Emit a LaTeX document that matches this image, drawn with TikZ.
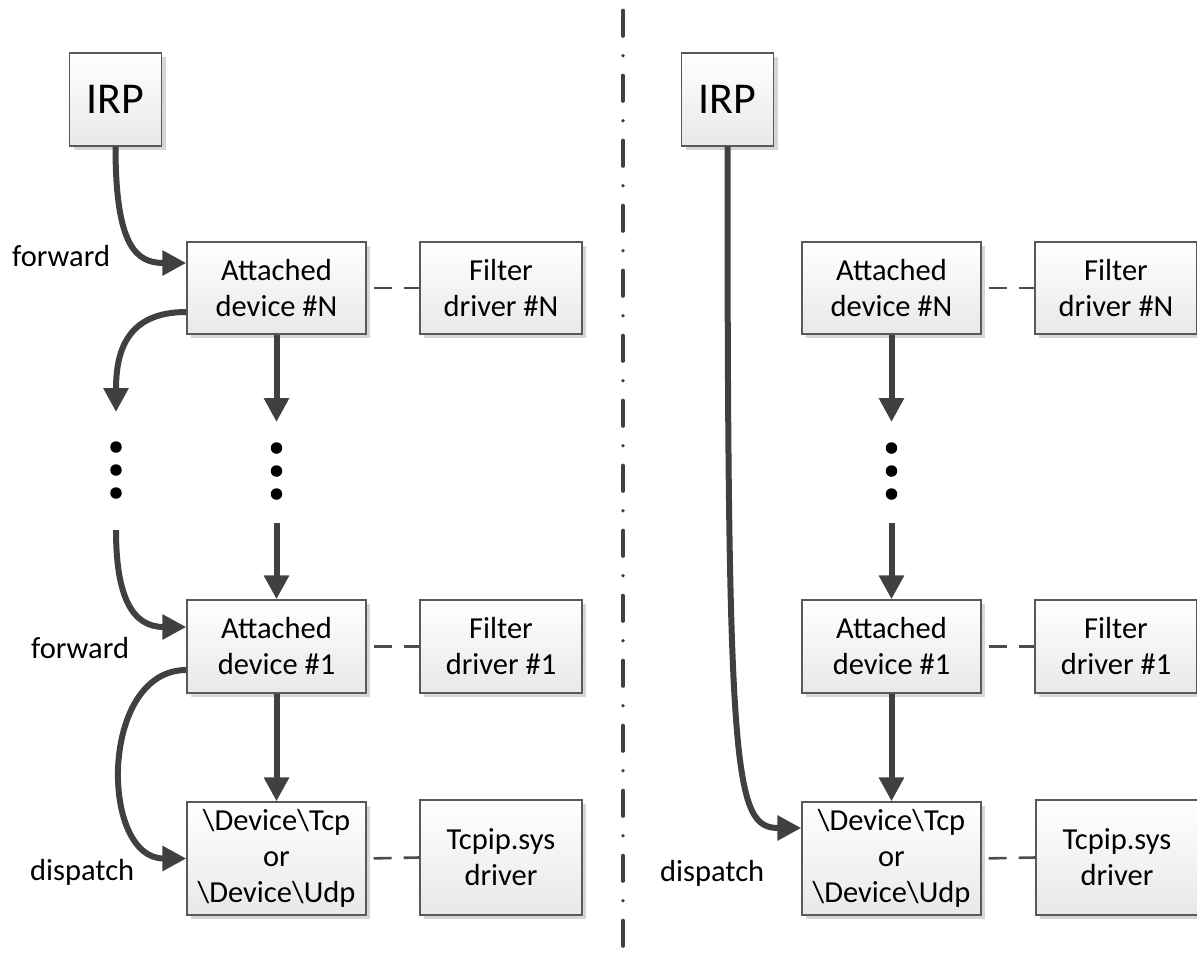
\documentclass[tikz,border=0pt]{standalone}
\usepackage{fontspec}
\setmainfont{Carlito}
\usetikzlibrary{arrows.meta,shadows}
\begin{document}
\begin{tikzpicture}[x=1pt,y=-1pt,
  box/.style={draw=black!65, line width=1.4pt, top color=white, bottom color=black!9,
    drop shadow={shadow xshift=4pt, shadow yshift=-4pt, fill=black!16, opacity=1},
    inner sep=0pt, align=center, font=\fontsize{30.5}{36}\selectfont},
  flow/.style={draw=black!75, line width=6pt, -{Triangle[length=24pt,width=24pt]}},
  link/.style={draw=black!70, line width=2.6pt, dash pattern=on 18pt off 12pt, dash phase=23pt},
  lbl/.style={anchor=base west, inner sep=0pt, font=\fontsize{30.5}{36}\selectfont},
  vdot/.style={circle, fill=black, inner sep=0pt, minimum size=11.5pt},
  irpbox/.style={box, minimum width=92pt, minimum height=93pt, font=\fontsize{44}{50}\selectfont},
  devbox/.style={box, minimum width=179pt, minimum height=92pt},
  drvbox/.style={box, minimum width=162pt, minimum height=92pt},
]
\useasboundingbox (0,0) rectangle (1197,962);

% ---------- left half ----------
\node[irpbox] (irpL) at (115.5,99.5) {IRP};
\node[devbox] (attNL) at (276.5,288) {Attached\\device \#N};
\node[drvbox] (filNL) at (501,288) {Filter\\driver \#N};
\node[devbox, minimum height=93pt] (att1L) at (276.5,646.5) {Attached\\device \#1};
\node[drvbox, minimum height=93pt] (fil1L) at (501,646.5) {Filter\\driver \#1};
\node[devbox, minimum height=113pt] (tcpL) at (276.5,858.5)
  {\textbackslash Device\textbackslash Tcp\\or\\\textbackslash Device\textbackslash Udp};
\node[drvbox, minimum height=115pt] (tcpipL) at (501,857.5) {Tcpip.sys\\driver};

\node[vdot] (dL1) at (116,447) {};
\node[vdot] (dL2) at (116,470) {};
\node[vdot] (dL3) at (116,493) {};
\node[vdot] (dM1) at (276.5,448) {};
\node[vdot] (dM2) at (276.5,471) {};
\node[vdot] (dM3) at (276.5,494) {};

\draw[link] (attNL.east) -- (filNL.west);
\draw[link] (att1L.east) -- (fil1L.west);
\draw[link] (tcpL.east) -- (tcpipL.west);

\draw[flow] (irpL.south) .. controls +(0,100) and +(-50,0) .. ([yshift=25pt]attNL.west);
\draw[flow] ([yshift=-24pt]attNL.west) .. controls +(-60,0) and +(0,-60) .. ([yshift=35pt]dL1.center);
\draw[flow] ([yshift=-37pt]dL3.center) .. controls +(0,65) and +(-55,0) .. ([yshift=19.5pt]att1L.west);
\draw[flow] ([yshift=-23.5pt]att1L.west) .. controls +(-87,0) and +(-87,0) .. (tcpL.west);
\draw[flow] (attNL.south) -- ([yshift=26pt]dM1.center);
\draw[flow] ([yshift=-29pt]dM3.center) -- (att1L.north);
\draw[flow] (att1L.south) -- (tcpL.north);

\node[lbl] (fwdN) at (12,266) {forward};
\node[lbl] (fwd1) at (31,658) {forward};
\node[lbl] (dspL) at (30,880) {dispatch};

% ---------- divider ----------
\coordinate (divTop) at (623,10.5);
\coordinate (divBot) at (623,962);
\draw[black!75, line width=3.6pt, line cap=round,
  dash pattern=on 25.5pt off 19.75pt on 0pt off 19.75pt] (divTop) -- (divBot);

% ---------- right half ----------
\node[irpbox] (irpR) at (727.5,99.5) {IRP};
\node[devbox] (attNR) at (891.5,288) {Attached\\device \#N};
\node[drvbox] (filNR) at (1116,288) {Filter\\driver \#N};
\node[devbox, minimum height=93pt] (att1R) at (891.5,646.5) {Attached\\device \#1};
\node[drvbox, minimum height=93pt] (fil1R) at (1116,646.5) {Filter\\driver \#1};
\node[devbox, minimum height=113pt] (tcpR) at (891.5,858.5)
  {\textbackslash Device\textbackslash Tcp\\or\\\textbackslash Device\textbackslash Udp};
\node[drvbox, minimum height=115pt] (tcpipR) at (1117,857.5) {Tcpip.sys\\driver};

\node[vdot] (dR1) at (891.5,448) {};
\node[vdot] (dR2) at (891.5,471) {};
\node[vdot] (dR3) at (891.5,494) {};

\draw[link] (attNR.east) -- (filNR.west);
\draw[link] (att1R.east) -- (fil1R.west);
\draw[link] (tcpR.east) -- (tcpipR.west);

\draw[flow] (irpR.south) .. controls +(0,634) and +(-67,0) .. ([yshift=30.5pt]tcpR.west);
\draw[flow] (attNR.south) -- ([yshift=26pt]dR1.center);
\draw[flow] ([yshift=-29pt]dR3.center) -- (att1R.north);
\draw[flow] (att1R.south) -- (tcpR.north);

\node[lbl] (dspR) at (660,881) {dispatch};
\end{tikzpicture}
\end{document}
